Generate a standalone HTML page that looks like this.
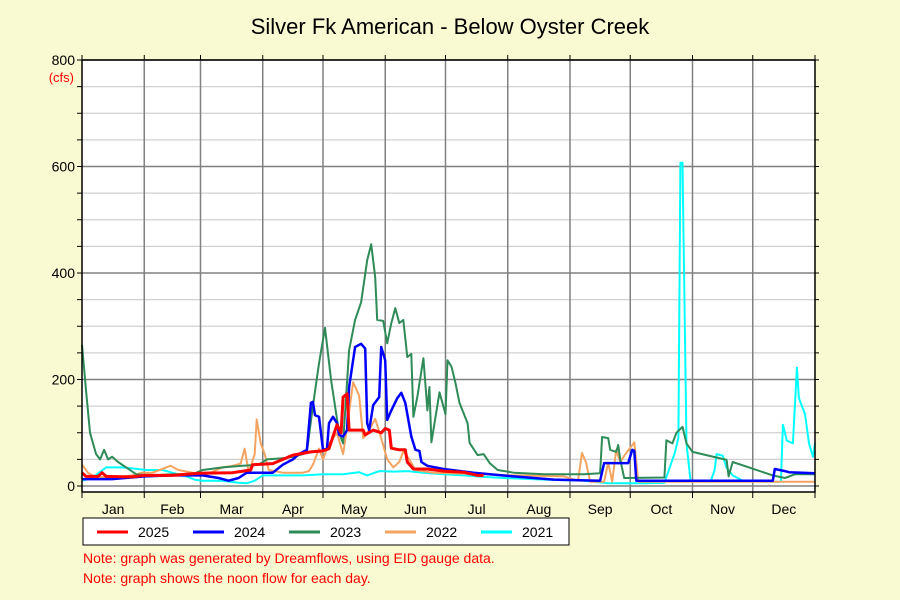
<!DOCTYPE html>
<html><head><meta charset="utf-8"><style>
html,body{margin:0;padding:0;background:#fafad2;}
svg{display:block;font-family:"Liberation Sans","DejaVu Sans",sans-serif;}
</style></head><body>
<svg id="chart" width="900" height="600" viewBox="0 0 900 600" xmlns="http://www.w3.org/2000/svg">
<rect x="0" y="0" width="900" height="600" fill="#fafad2"/>
<text x="450" y="34" text-anchor="middle" font-size="22" fill="#000">Silver Fk American - Below Oyster Creek</text>
<rect x="82" y="60" width="733" height="432" fill="#fff"/>
<g id="grid"></g>
<g id="series"></g>
<g id="axes"></g>
<text x="74" y="82" text-anchor="end" font-size="13" fill="#ff0000">(cfs)</text>
<g>
<rect x="83" y="518" width="486" height="27" fill="#fff" stroke="#000" stroke-width="1"/>
<g><line x1="97" y1="532" x2="128" y2="532" stroke="#ff0000" stroke-width="3"/><text x="138" y="537" font-size="14">2025</text></g>
<g><line x1="193" y1="532" x2="224" y2="532" stroke="#0000ff" stroke-width="3"/><text x="234" y="537" font-size="14">2024</text></g>
<g><line x1="289" y1="532" x2="320" y2="532" stroke="#2e8b57" stroke-width="3"/><text x="330" y="537" font-size="14">2023</text></g>
<g><line x1="385" y1="532" x2="416" y2="532" stroke="#f4a460" stroke-width="3"/><text x="426" y="537" font-size="14">2022</text></g>
<g><line x1="481" y1="532" x2="512" y2="532" stroke="#00ffff" stroke-width="3"/><text x="522" y="537" font-size="14">2021</text></g>
</g>
<text x="83" y="563" font-size="14" fill="#ff0000">Note: graph was generated by Dreamflows, using EID gauge data.</text>
<text x="83" y="583" font-size="14" fill="#ff0000">Note: graph shows the noon flow for each day.</text>
</svg>
<script>
const monthLabels=["Jan","Feb","Mar","Apr","May","Jun","Jul","Aug","Sep","Oct","Nov","Dec"];
const monthStarts=[0,31,59,90,120,151,181,212,243,273,304,334,365];
const yTicks=[0,200,400,600,800];
const seriesNames=["2021","2022","2023","2024","2025"];
const data2021=[[0,10],[5,15],[12,35],[20,35],[25,33],[32,30],[40,30],[45,25],[52,18],[56,12],[60,10],[70,10],[78,6],[82,5],[86,10],[90,20],[100,20],[110,20],[120,22],[130,22],[138,26],[142,20],[148,28],[155,27],[162,28],[170,25],[180,22],[190,20],[200,17],[210,15],[230,12],[250,10],[262,5],[280,5],[290,6],[295,60],[297,90],[298,607],[299,607],[301,80],[303,10],[313,8],[315,30],[316,60],[319,57],[321,34],[324,20],[329,10],[340,8],[348,8],[349,115],[351,85],[354,80],[356,222],[357,165],[360,135],[362,80],[364,55],[365,80]];
const data2022=[[0,40],[3,25],[6,18],[15,15],[25,20],[30,25],[35,25],[40,32],[44,38],[48,30],[55,25],[62,22],[70,35],[75,38],[79,42],[81,70],[83,25],[86,60],[87,125],[89,80],[91,60],[93,30],[100,25],[110,25],[113,28],[115,40],[118,70],[120,50],[123,80],[127,100],[130,60],[132,110],[135,195],[138,170],[140,90],[143,105],[146,126],[149,90],[152,50],[155,35],[158,45],[160,65],[163,50],[166,30],[175,25],[200,22],[215,20],[240,18],[247,10],[249,62],[251,44],[253,8],[260,8],[262,44],[264,8],[266,68],[268,45],[271,62],[275,82],[277,8],[300,8],[365,8]];
const data2023=[[0,265],[2,180],[4,100],[7,60],[9,50],[11,68],[13,50],[15,55],[18,45],[22,35],[27,22],[35,20],[45,22],[55,22],[60,30],[70,35],[80,38],[88,40],[92,50],[100,52],[105,55],[110,60],[112,64],[115,150],[118,230],[121,297],[124,200],[128,100],[130,80],[133,255],[136,312],[139,345],[142,424],[144,454],[146,392],[147,312],[150,310],[152,268],[154,306],[156,334],[158,306],[160,312],[162,242],[164,248],[165,130],[167,168],[170,240],[172,142],[173,186],[174,82],[178,176],[181,135],[182,236],[184,224],[186,193],[188,156],[192,118],[193,81],[197,58],[200,60],[203,43],[207,30],[215,25],[230,22],[250,22],[258,24],[259,92],[262,90],[263,68],[266,64],[267,77],[268,50],[270,15],[290,16],[291,86],[294,80],[296,100],[299,111],[301,80],[304,64],[321,49],[322,18],[324,45],[344,20],[350,15],[355,22],[365,22]];
const data2024=[[0,13],[15,13],[31,18],[45,20],[60,20],[68,15],[73,10],[78,15],[82,25],[95,25],[100,40],[105,50],[108,60],[112,68],[114,156],[115,158],[116,133],[118,130],[120,68],[122,70],[123,118],[125,130],[127,118],[128,96],[130,93],[132,105],[133,186],[136,261],[139,267],[141,258],[142,118],[143,105],[145,152],[148,167],[149,261],[151,236],[152,124],[154,142],[157,165],[159,175],[161,156],[164,93],[166,68],[168,66],[169,45],[172,38],[180,32],[195,25],[215,18],[235,12],[258,10],[260,43],[272,43],[274,68],[275,66],[276,10],[300,10],[344,10],[345,32],[350,28],[352,26],[365,24]];
const data2025=[[0,25],[2,18],[8,18],[10,25],[12,18],[25,17],[31,20],[45,20],[58,24],[75,25],[84,30],[85,40],[95,42],[105,58],[114,64],[120,66],[123,70],[125,93],[127,115],[129,100],[130,167],[132,173],[133,105],[137,105],[140,105],[141,96],[145,105],[149,100],[151,108],[153,105],[154,71],[158,68],[161,68],[162,45],[165,32],[172,32],[180,28],[190,26],[197,20],[200,20]];
const seriesData=[data2021,data2022,data2023,data2024,data2025];
const seriesColors=["#00ffff","#f4a460","#2e8b57","#0000ff","#ff0000"];
const seriesWidths=[2,2,2,2.5,3];

const NS="http://www.w3.org/2000/svg";
const X0=82,X1=815,Y0=486,YTOP=60,YBOT=492;
function xs(d){return X0+d*(X1-X0)/365;}
function ys(v){return Y0-v*(Y0-YTOP)/800;}
function mk(tag,attrs,parent){const e=document.createElementNS(NS,tag);for(const k in attrs)e.setAttribute(k,attrs[k]);parent.appendChild(e);return e;}
const grid=document.getElementById('grid'),axes=document.getElementById('axes'),ser=document.getElementById('series');
for(let v=0;v<=800;v+=50){
  const major=v%200===0;
  const l=mk('line',{x1:X0,x2:X1,y1:ys(v),y2:ys(v),stroke:major?'#808080':'#d0d0d0','stroke-width':major?1.5:1.2},grid);
  
  
  const t1=mk('line',{x1:X0-5,x2:X0,y1:ys(v),y2:ys(v),stroke:'#000','stroke-width':1},axes);
  
  
  const t2=mk('line',{x1:X1,x2:X1+4,y1:ys(v),y2:ys(v),stroke:'#000','stroke-width':1},axes);
  
  
}
yTicks.forEach(v=>{
  const t=mk('text',{x:X0-7,y:ys(v)+5,'text-anchor':'end','font-size':14,fill:'#000'},axes);
  t.textContent=v;
  
  
});
monthStarts.forEach((d,i)=>{
  const x=xs(d);
  if(i>0&&i<12){
    const g=mk('line',{x1:x,x2:x,y1:YTOP,y2:YBOT,stroke:'#808080','stroke-width':1.5},grid);
    
    
  }
  const tb=mk('line',{x1:x,x2:x,y1:YBOT,y2:YBOT+6,stroke:'#000','stroke-width':1},axes);
  
  
  const tt=mk('line',{x1:x,x2:x,y1:YTOP-5,y2:YTOP,stroke:'#000','stroke-width':1},axes);
  
  
  if(i<12){
    const lb=mk('text',{x:(xs(d)+xs(monthStarts[i+1]))/2,y:514,'text-anchor':'middle','font-size':14,fill:'#000'},axes);
    lb.textContent=monthLabels[i];
    
    
  }
});
const fr=mk('rect',{x:X0,y:YTOP,width:X1-X0,height:YBOT-YTOP,fill:'none',stroke:'#000','stroke-width':1.5},axes);


seriesData.forEach((arr,i)=>{
  const pts=arr.map(p=>xs(p[0]).toFixed(1)+','+ys(p[1]).toFixed(1)).join(' ');
  const pl=mk('polyline',{points:pts,fill:'none',stroke:seriesColors[i],'stroke-width':seriesWidths[i],'stroke-linejoin':'round'},ser);
  
  
});
</script>
</body></html>
